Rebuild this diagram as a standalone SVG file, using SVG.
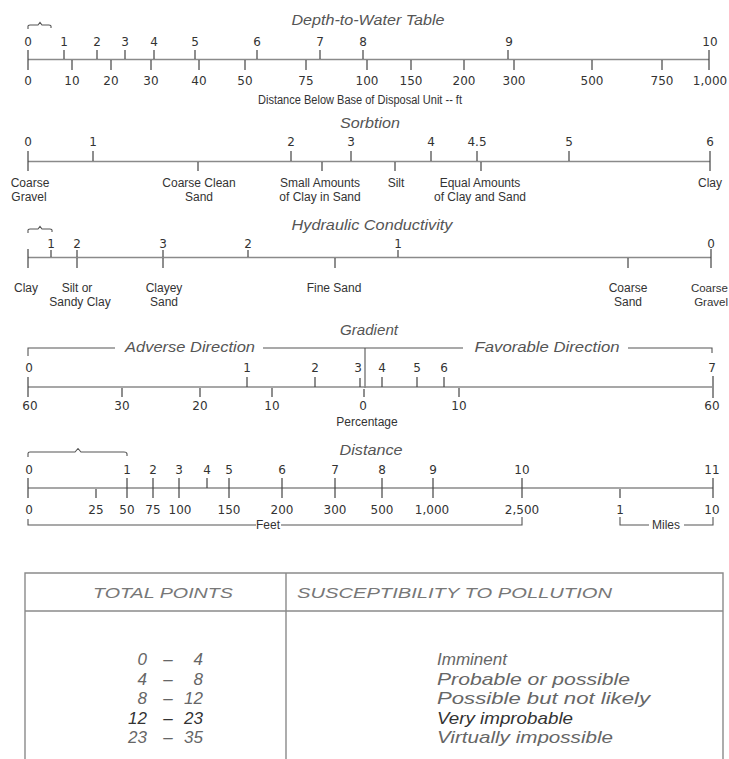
<svg xmlns="http://www.w3.org/2000/svg" width="729" height="759" viewBox="0 0 729 759">
<style>
.ln{stroke:#8a8a8a;stroke-width:1.6;fill:none}
.tk{stroke:#444;stroke-width:1.2;fill:none}
.br{stroke:#555;stroke-width:1.1;fill:none}
.n{font-family:"DejaVu Sans","Liberation Sans",sans-serif;font-size:12px;fill:#333;text-anchor:middle}
.lb{font-family:"Liberation Sans",Arial,sans-serif;font-size:12px;fill:#333;text-anchor:middle}
.t{font-family:"Liberation Sans",Arial,sans-serif;font-style:italic;font-size:15px;fill:#555;text-anchor:middle}
.tb{stroke:#8a8a8a;stroke-width:1.4;fill:none}
.hd{font-family:"Liberation Sans",Arial,sans-serif;font-style:italic;font-size:15px;fill:#777}
.rw{font-family:"Liberation Sans",Arial,sans-serif;font-style:italic;font-size:17px;fill:#666}
</style>
<rect width="729" height="759" fill="#fff"/>

<g id="depth">
<text class="t" x="368" y="25" textLength="153" lengthAdjust="spacingAndGlyphs">Depth-to-Water Table</text>
<path class="br" d="M28,29 L28,26 Q28,25 30,25 L38,25 L40,22.5 L42,25 L49,25 Q51,25 51,26 L51,28"/>
<line class="ln" x1="28" y1="59.5" x2="709" y2="59.5"/>
<path class="tk" d="M28,50V70 M64,50V59 M97,50V59 M125,50V59 M154,50V59 M195,50V59 M257,50V59 M320,50V59 M363,50V59 M508,50V59 M709,50V70 M72,60V70 M111,60V70 M151,60V70 M199,60V70 M245,60V70 M306,60V70 M367,60V70 M411,60V70 M464,60V70 M514,60V70 M592,60V70 M662,60V70"/>
<g class="n">
<text x="28" y="46">0</text><text x="64" y="46">1</text><text x="97" y="46">2</text><text x="125" y="46">3</text><text x="154" y="46">4</text><text x="195" y="46">5</text><text x="257" y="46">6</text><text x="320" y="46">7</text><text x="363" y="46">8</text><text x="509" y="46">9</text><text x="710" y="46">10</text>
<text x="28" y="85">0</text><text x="72" y="85">10</text><text x="111" y="85">20</text><text x="151" y="85">30</text><text x="199" y="85">40</text><text x="245" y="85">50</text><text x="306" y="85">75</text><text x="367" y="85">100</text><text x="411" y="85">150</text><text x="464" y="85">200</text><text x="514" y="85">300</text><text x="592" y="85">500</text><text x="662" y="85">750</text><text x="710" y="85">1,000</text>
</g>
<text class="lb" x="360" y="104" textLength="204" lengthAdjust="spacingAndGlyphs">Distance Below Base of Disposal Unit -- ft</text>
</g>

<g id="sorbtion">
<text class="t" x="370" y="128" textLength="60" lengthAdjust="spacingAndGlyphs">Sorbtion</text>
<line class="ln" x1="28" y1="161.5" x2="710" y2="161.5"/>
<path class="tk" d="M28,151V171 M93,151V161 M291,151V161 M351,151V161 M431,151V161 M477,151V161 M569,151V161 M710,151V171 M198,162V171 M322,162V171 M395,162V171 M481,162V171"/>
<g class="n">
<text x="28" y="146">0</text><text x="93" y="146">1</text><text x="291" y="146">2</text><text x="351" y="146">3</text><text x="431" y="146">4</text><text x="477" y="146">4.5</text><text x="569" y="146">5</text><text x="710" y="146">6</text>
</g>
<g class="lb">
<text x="30" y="186.5">Coarse</text><text x="29" y="201">Gravel</text>
<text x="199" y="186.5">Coarse Clean</text><text x="199" y="201">Sand</text>
<text x="320" y="186.5">Small Amounts</text><text x="320" y="201">of Clay in Sand</text>
<text x="396" y="186.5">Silt</text>
<text x="480" y="186.5">Equal Amounts</text><text x="480" y="201">of Clay and Sand</text>
<text x="710" y="186.5">Clay</text>
</g>
</g>

<g id="hydraulic">
<text class="t" x="372" y="230" textLength="161" lengthAdjust="spacingAndGlyphs">Hydraulic Conductivity</text>
<path class="br" d="M28,233 L28,230 Q28,229 30,229 L38,229 L40,226.5 L42,229 L50,229 Q52,229 52,230 L52,232"/>
<line class="ln" x1="28" y1="257.5" x2="711" y2="257.5"/>
<path class="tk" d="M28,249V268 M51,250V257 M77,250V257 M163,250V257 M248,250V257 M398,250V257 M711,249V268 M77,258V268 M163,258V268 M335,258V268 M628,258V268"/>
<g class="n">
<text x="51" y="248">1</text><text x="77" y="248">2</text><text x="163" y="248">3</text><text x="248" y="248">2</text><text x="398" y="248">1</text><text x="711" y="248">0</text>
</g>
<g class="lb">
<text x="26" y="292">Clay</text>
<text x="77" y="292">Silt or</text><text x="80" y="306">Sandy Clay</text>
<text x="164" y="292">Clayey</text><text x="164" y="306">Sand</text>
<text x="334" y="292">Fine Sand</text>
<text x="628" y="292">Coarse</text><text x="628" y="306">Sand</text>
<text x="728" y="292" style="text-anchor:end;font-size:11.5px">Coarse</text><text x="728" y="306" style="text-anchor:end;font-size:11.5px">Gravel</text>
</g>
</g>

<g id="gradient">
<text class="t" x="369" y="335" textLength="58" lengthAdjust="spacingAndGlyphs">Gradient</text>
<path class="br" d="M28,356 V348 H115 M263,348 H463 M628,348 H712 V353 M365,348 V388"/>
<text class="t" x="190" y="352" textLength="130" lengthAdjust="spacingAndGlyphs">Adverse Direction</text>
<text class="t" x="547" y="352" textLength="145" lengthAdjust="spacingAndGlyphs">Favorable Direction</text>
<line class="ln" x1="28" y1="387" x2="712" y2="387"/>
<path class="tk" d="M28,377V397 M247,377V387 M315,377V387 M360,378V387 M382,377V387 M417,377V387 M444,377V387 M713,376V398 M122,388V397 M200,388V397 M272,388V397 M364,389V397 M459,388V397"/>
<g class="n">
<text x="29" y="372">0</text><text x="247" y="372">1</text><text x="315" y="372">2</text><text x="358" y="372">3</text><text x="382" y="372">4</text><text x="417" y="372">5</text><text x="444" y="372">6</text><text x="712" y="372">7</text>
<text x="30" y="410">60</text><text x="122" y="410">30</text><text x="200" y="410">20</text><text x="272" y="410">10</text><text x="363" y="410">0</text><text x="459" y="410">10</text><text x="712" y="410">60</text>
</g>
<text class="lb" x="367" y="426">Percentage</text>
</g>

<g id="distance">
<text class="t" x="371" y="455" textLength="63" lengthAdjust="spacingAndGlyphs">Distance</text>
<path class="br" d="M28,457 L28,453.5 Q28,452 30,452 L75,452 L78,448.5 L81,452 L124,452 Q127,452 127,454 L127,456"/>
<line class="ln" x1="28" y1="488" x2="713" y2="488"/>
<path class="tk" d="M28,478V498 M127,478V498 M153,478V498 M179,478V498 M207,478V488 M229,478V498 M282,478V498 M335,478V498 M382,478V498 M433,478V498 M522,478V498 M713,478V498 M96,489V498 M620,489V498"/>
<g class="n">
<text x="29" y="474">0</text><text x="127" y="474">1</text><text x="153" y="474">2</text><text x="179" y="474">3</text><text x="207" y="474">4</text><text x="229" y="474">5</text><text x="282" y="474">6</text><text x="335" y="474">7</text><text x="382" y="474">8</text><text x="433" y="474">9</text><text x="522" y="474">10</text><text x="712" y="474">11</text>
<text x="29" y="514">0</text><text x="96" y="514">25</text><text x="127" y="514">50</text><text x="153" y="514">75</text><text x="180" y="514">100</text><text x="229" y="514">150</text><text x="282" y="514">200</text><text x="335" y="514">300</text><text x="382" y="514">500</text><text x="432" y="514">1,000</text><text x="522" y="514">2,500</text><text x="620" y="514">1</text><text x="712" y="514">10</text>
</g>
<path class="br" d="M28,519 V525 H256 M281,525 H522 V517 M620,517 V525 H649 M684,525 H713 V517"/>
<text class="lb" x="268" y="529">Feet</text>
<text class="lb" x="666" y="529">Miles</text>
</g>

<g id="table">
<path class="tb" d="M25,759 V573 H723 V759 M25,611 H723 M286,573 V759"/>
<text class="hd" x="93" y="598" textLength="140" lengthAdjust="spacingAndGlyphs">TOTAL POINTS</text>
<text class="hd" x="297" y="598" textLength="315" lengthAdjust="spacingAndGlyphs">SUSCEPTIBILITY TO POLLUTION</text>
<g class="rw">
<text x="147" y="665" text-anchor="end">0</text><text x="168" y="665" text-anchor="middle">–</text><text x="203" y="665" text-anchor="end">4</text>
<text x="147" y="684.5" text-anchor="end">4</text><text x="168" y="684.5" text-anchor="middle">–</text><text x="203" y="684.5" text-anchor="end">8</text>
<text x="147" y="704" text-anchor="end">8</text><text x="168" y="704" text-anchor="middle">–</text><text x="203" y="704" text-anchor="end">12</text>
<text x="147" y="723.5" text-anchor="end" fill="#333">12</text><text x="168" y="723.5" text-anchor="middle" fill="#333">–</text><text x="203" y="723.5" text-anchor="end" fill="#333">23</text>
<text x="147" y="743" text-anchor="end">23</text><text x="168" y="743" text-anchor="middle">–</text><text x="203" y="743" text-anchor="end">35</text>
<text x="437" y="665" textLength="70" lengthAdjust="spacingAndGlyphs">Imminent</text>
<text x="437" y="684.5" textLength="193" lengthAdjust="spacingAndGlyphs">Probable or possible</text>
<text x="437" y="704" textLength="213" lengthAdjust="spacingAndGlyphs">Possible but not likely</text>
<text x="437" y="723.5" textLength="136" lengthAdjust="spacingAndGlyphs" fill="#333">Very improbable</text>
<text x="437" y="743" textLength="176" lengthAdjust="spacingAndGlyphs">Virtually impossible</text>
</g>
</g>
</svg>
